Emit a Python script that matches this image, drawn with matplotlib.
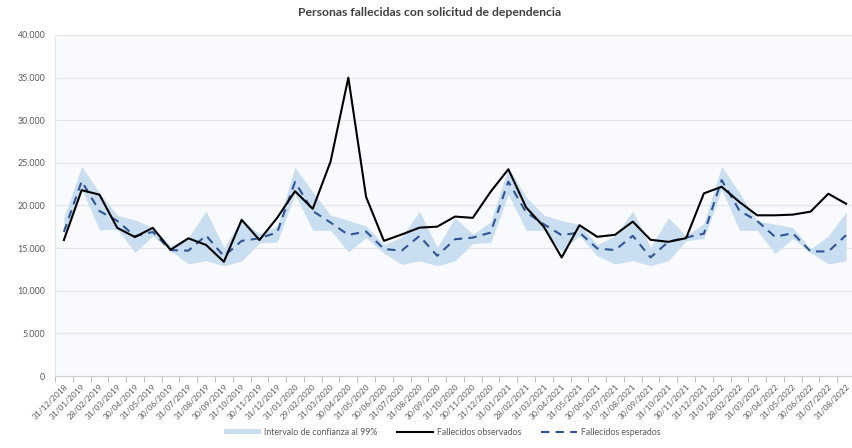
import matplotlib
matplotlib.use("Agg")
import matplotlib.pyplot as plt
import numpy as np
from matplotlib.ticker import FuncFormatter, MultipleLocator
from matplotlib.lines import Line2D
from matplotlib.patches import Patch

dates = ["31/12/2018", "31/01/2019", "28/02/2019", "31/03/2019", "30/04/2019", "31/05/2019",
         "30/06/2019", "31/07/2019", "31/08/2019", "30/09/2019", "31/10/2019", "30/11/2019",
         "31/12/2019", "31/01/2020", "29/02/2020", "31/03/2020", "30/04/2020", "31/05/2020",
         "30/06/2020", "31/07/2020", "31/08/2020", "30/09/2020", "31/10/2020", "30/11/2020",
         "31/12/2020", "31/01/2021", "28/02/2021", "31/03/2021", "30/04/2021", "31/05/2021",
         "30/06/2021", "31/07/2021", "31/08/2021", "30/09/2021", "31/10/2021", "30/11/2021",
         "31/12/2021", "31/01/2022", "28/02/2022", "31/03/2022", "30/04/2022", "31/05/2022",
         "30/06/2022", "31/07/2022", "31/08/2022"]

observados = [15950, 21800, 21270, 17380, 16300, 17380, 14800, 16150, 15370, 13400,
              18320, 15950, 18560, 21680, 19610, 25150, 35000, 21000, 15850, 16600,
              17400, 17520, 18700, 18550, 21600, 24250, 19780, 17500, 13900, 17690,
              16330, 16560, 18110, 15975, 15740, 16170, 21420, 22200, 20410, 18850,
              18850, 18930, 19280, 21380, 20200]

esperados = [16900, 22850, 19350, 18200, 16400, 16900, 14770, 14700, 16480, 14050,
             15850, 16150, 16850, 22760, 19350, 18000, 16550, 16950, 14900, 14700,
             16430, 14100, 16040, 16235, 16820, 22800, 19200, 17800, 16520, 16830,
             14960, 14770, 16440, 13910, 15740, 16250, 16700, 22980, 19400, 18190,
             16330, 16750, 14610, 14610, 16520]

ic_superior = [18580, 24610, 21500, 18850, 18310, 17410, 15300, 16250, 19360, 15070,
               18400, 16700, 17600, 24470, 21600, 18877, 18256, 17600, 15400, 16300,
               19343, 15070, 18566, 16624, 18062, 24470, 21000, 18877, 18200, 17800,
               15400, 16440, 19360, 15080, 18580, 16440, 17900, 24610, 21500, 18190,
               17800, 17410, 14900, 16440, 19240]

ic_inferior = [16450, 21900, 17140, 17220, 14500, 16440, 14700, 13140, 13530, 12930,
               13500, 15600, 15700, 21300, 17090, 17090, 14565, 16235, 14400, 13100,
               13516, 12933, 13516, 15536, 15653, 21300, 17090, 17090, 14600, 16440,
               14100, 13140, 13530, 12940, 13530, 15860, 16130, 21890, 17090, 17090,
               14380, 16130, 14500, 13140, 13530]

title = "Personas fallecidas con solicitud de dependencia"
lbl_band = "Intervalo de confianza al 99%"
lbl_obs = "Fallecidos observados"
lbl_esp = "Fallecidos esperados"

plt.rcParams['font.family'] = ['Lato', 'DejaVu Sans']

W, H = 852, 448
fig = plt.figure(figsize=(W / 100, H / 100), dpi=100)
fig.patch.set_facecolor("white")

left, right, top, bottom = 55, 855, 35, 376
ax = fig.add_axes([left / W, 1 - bottom / H, (right - left) / W, (bottom - top) / H])
ax.set_facecolor("#F8FAFD")

x = np.arange(len(dates))
band_color = "#C9DEF1"
ax.fill_between(x, ic_inferior, ic_superior, color=band_color, linewidth=0, zorder=2)
ax.plot(x, observados, color="black", linewidth=1.5, zorder=4)
ax.plot(x, esperados, color="#2F5597", linewidth=1.5, linestyle=(0, (4, 3)), zorder=3)

ax.set_xlim(-0.5, len(dates) - 0.5)
ax.set_ylim(0, 40000)
ax.yaxis.set_major_locator(MultipleLocator(5000))
ax.yaxis.set_major_formatter(FuncFormatter(lambda v, p: f"{int(v):,}".replace(",", ".")))
ax.grid(axis="y", color="#E4E6EA", linewidth=0.8, zorder=0)
ax.set_axisbelow(True)

ax.set_xticks(x)
ax.set_xticklabels(dates, rotation=45, ha="right", rotation_mode="anchor",
                   fontsize=6.0, color="#595959")
ax.set_xticks(np.arange(-0.5, len(dates), 1), minor=True)
ax.tick_params(axis="x", which="major", length=0, pad=5)
ax.tick_params(axis="x", which="minor", length=4, color="#BFBFBF", width=0.8)
ax.tick_params(axis="y", length=0, labelsize=6.4, labelcolor="#595959", pad=7)

for s in ["top", "right"]:
    ax.spines[s].set_visible(False)
ax.spines["left"].set_color("#E4E6EA")
ax.spines["bottom"].set_color("#D0D0D0")
ax.spines["bottom"].set_linewidth(0.8)

fig.text(430 / W, 1 - 13 / H, title, ha="center", va="center",
         fontsize=8.8, fontweight="bold", color="#404040")

handles = [Patch(facecolor=band_color, edgecolor="none"),
           Line2D([0], [0], color="black", linewidth=1.5),
           Line2D([0], [0], color="#2F5597", linewidth=1.5, linestyle=(0, (4, 3)))]
fig.legend(handles, [lbl_band, lbl_obs, lbl_esp], loc="center",
           bbox_to_anchor=(442 / W, 1 - 432 / H), ncol=3, frameon=False,
           fontsize=6.3, handlelength=4.2, handleheight=0.5, columnspacing=2.2,
           handletextpad=0.4, labelcolor="#595959")

fig.savefig("out.png", dpi=100, facecolor="white")
